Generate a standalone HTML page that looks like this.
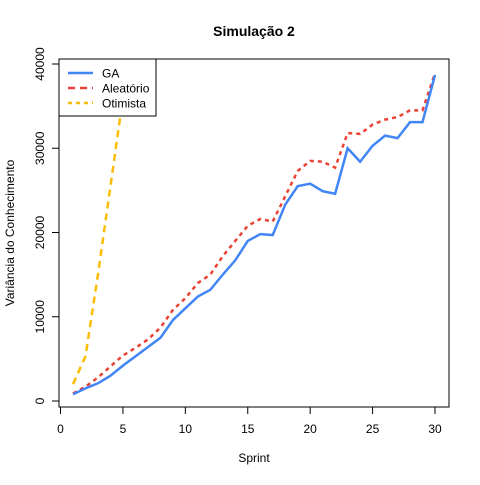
<!DOCTYPE html>
<html><head><meta charset="utf-8"><style>
body{margin:0;background:#fff}
svg{font-family:"Liberation Sans",Arial,sans-serif}
</style></head><body>
<svg width="480" height="480" viewBox="0 0 480 480">
<defs><clipPath id="pc"><rect x="59" y="59" width="390" height="348"/></clipPath></defs>
<text x="254" y="36" text-anchor="middle" font-weight="bold" font-size="14">Simulação 2</text>
<rect x="59" y="59" width="390" height="348" fill="none" stroke="#000" stroke-width="1"/>
<g id="axes"></g>
<g id="series" clip-path="url(#pc)"></g>
<text x="254" y="462" text-anchor="middle" font-size="12">Sprint</text>
<text transform="translate(14,233) rotate(-90)" text-anchor="middle" font-size="12">Variância do Conhecimento</text>
<g>
<rect x="59" y="59" width="97" height="57" fill="#fff" stroke="#000" stroke-width="1"/>
<line x1="68" y1="73" x2="93" y2="73" stroke="#4285f4" stroke-width="2.5"/>
<text x="102" y="77.5" font-size="12">GA</text>
<line x1="68" y1="88" x2="93" y2="88" stroke="#ea4335" stroke-width="2.5" stroke-dasharray="7,5"/>
<text x="102" y="92.5" font-size="12">Aleatório</text>
<line x1="68" y1="103" x2="93" y2="103" stroke="#fbbc04" stroke-width="2.5" stroke-dasharray="4,4"/>
<text x="102" y="107.5" font-size="12">Otimista</text>
</g>
</svg>
<script>
const sprints=[...Array(30)].map((_,i)=>i+1);
const gaValues=[800,1500,2100,3000,4200,5300,6400,7500,9600,11000,12400,13200,15000,16700,19000,19800,19700,23300,25500,25800,24900,24600,30000,28400,30300,31500,31200,33100,33100,38700];
const aleatorioValues=[900,1700,2800,4100,5400,6300,7300,8700,10800,12200,14000,15000,17200,19000,20800,21600,21300,24300,27300,28500,28400,27700,31800,31700,32800,33400,33700,34500,34500,38900];
const otimistaValues=[2000,5300,15000,25500,36000,46000,56000,66000,76000,86000,96000,106000,116000,126000,136000,146000,156000,166000,176000,186000,196000,206000,216000,226000,236000,246000,256000,266000,276000,286000];
const xTicks=[0,5,10,15,20,25,30];
const yTicks=[0,10000,20000,30000,40000];
const X=v=>73+(v-1)*(362/29);
const Y=v=>401-v*(337/40000);
const NS="http://www.w3.org/2000/svg";
const axes=document.getElementById('axes'),ser=document.getElementById('series');
function mk(t,a,p){const e=document.createElementNS(NS,t);for(const k in a)e.setAttribute(k,a[k]);p.appendChild(e);return e;}
xTicks.forEach(t=>{
 const l=mk('line',{x1:X(t),x2:X(t),y1:407,y2:414,stroke:'#000'},axes);
 
 
 const tx=mk('text',{x:X(t),y:433,'text-anchor':'middle','font-size':12},axes);tx.textContent=t;
 
 
});
yTicks.forEach(t=>{
 const l=mk('line',{x1:52,x2:59,y1:Y(t),y2:Y(t),stroke:'#000'},axes);
 
 
 const tx=mk('text',{transform:`translate(44,${Y(t)}) rotate(-90)`,'text-anchor':'middle','font-size':12},axes);tx.textContent=t;
 
 
});
function line(vals,col,dash,name){
 const p=mk('polyline',{points:vals.map((v,i)=>X(sprints[i])+','+Y(v)).join(' '),fill:'none',stroke:col,'stroke-width':2.5,'stroke-dasharray':dash},ser);
 
 
}
line(otimistaValues,'#fbbc04','7,5','otimista-line');
line(aleatorioValues,'#ea4335','4,4','aleatorio-line');
line(gaValues,'#4285f4','none','ga-line');
</script>
</body></html>
